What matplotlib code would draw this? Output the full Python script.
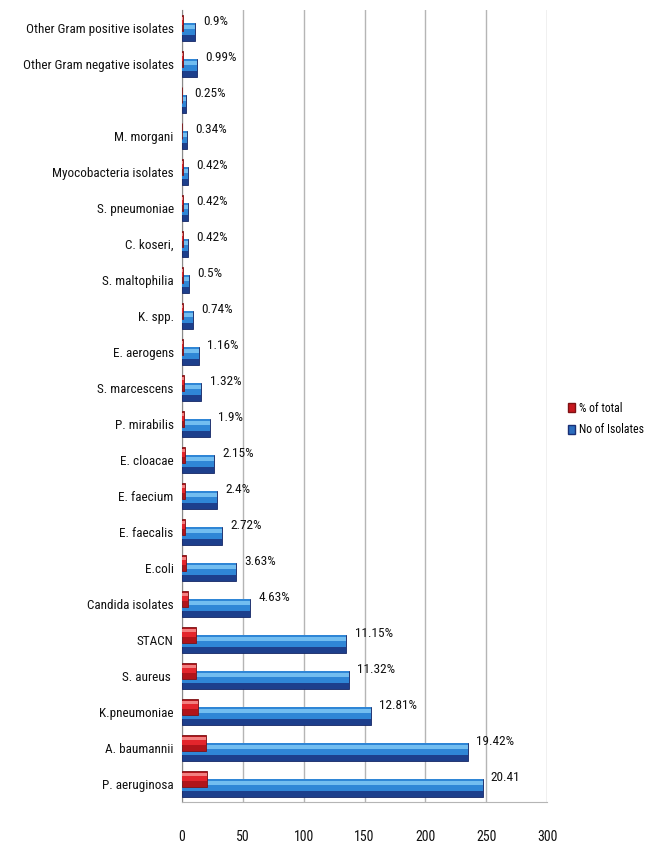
import numpy as np
import matplotlib
matplotlib.use("Agg")
import matplotlib.pyplot as plt
from matplotlib import font_manager
from matplotlib.patches import Patch

# narrow font if we have one, else plain sans
names = {f.name for f in font_manager.fontManager.ttflist}
for fam in ["Liberation Sans Narrow", "Roboto Condensed", "Open Sans Condensed", "DejaVu Sans"]:
    if fam in names:
        plt.rcParams["font.family"] = [fam, "DejaVu Sans"]
        break

# bottom to top
organisms = [
    "P. aeruginosa", "A. baumannii", "K.pneumoniae", "S. aureus ", "STACN",
    "Candida isolates", "E.coli", "E. faecalis", "E. faecium", "E. cloacae",
    "P. mirabilis", "S. marcescens", "E. aerogens", "K. spp.", "S. maltophilia",
    "C. koseri,", "S. pneumoniae", "Myocobacteria isolates", "M. morgani", "",
    "Other Gram negative isolates", "Other Gram positive isolates",
]
n_isolates = [247, 235, 155, 137, 135, 56, 44, 33, 29, 26, 23, 16, 14, 9, 6,
              5, 5, 5, 4, 3, 12, 11]
pct_total = [20.41, 19.42, 12.81, 11.32, 11.15, 4.63, 3.63, 2.72, 2.4, 2.15,
             1.9, 1.32, 1.16, 0.74, 0.5, 0.42, 0.42, 0.42, 0.34, 0.25, 0.99, 0.9]
pct_labels = ["20.41", "19.42%", "12.81%", "11.32%", "11.15%", "4.63%", "3.63%",
              "2.72%", "2.4%", "2.15%", "1.9%", "1.32%", "1.16%", "0.74%", "0.5%",
              "0.42%", "0.42%", "0.42%", "0.34%", "0.25%", "0.99%", "0.9%"]
x_ticks = [0, 50, 100, 150, 200, 250, 300]

fig = plt.figure(figsize=(6.6, 8.49), dpi=100)
ax = fig.add_axes([182/660, 47/849, 365/660, 792/849])

y = np.arange(len(organisms))

# blue series (No of isolates), lower half, faux cylinder shading
ax.barh(y - 0.11, n_isolates, height=0.5, color="#1D3F8C", edgecolor="#152766",
        linewidth=0.6, zorder=3)
ax.barh(y - 0.03, n_isolates, height=0.32, color="#2F86D6", linewidth=0, zorder=3)
ax.barh(y + 0.03, n_isolates, height=0.1, color="#72BDF0", linewidth=0, zorder=3)

# red series (% of total), upper half, drawn over blue
ax.barh(y + 0.14, pct_total, height=0.44, color="#B0141A", edgecolor="#7E1114",
        linewidth=0.6, zorder=4)
ax.barh(y + 0.19, pct_total, height=0.24, color="#E3252C", linewidth=0, zorder=4)
ax.barh(y + 0.26, pct_total, height=0.07, color="#F28080", linewidth=0, zorder=4)

for yi, v, lab in zip(y, n_isolates, pct_labels):
    ax.annotate(lab, (v, yi + 0.17), xytext=(6, 0), textcoords="offset points",
                va="center", ha="left", fontsize=9.5, color="#111111")

ax.set_ylim(-0.5, len(organisms) - 0.5)
ax.set_xlim(0, 300)
ax.set_yticks(y)
ax.set_yticklabels(organisms, fontsize=9.5, color="#111111")
ax.set_xticks(x_ticks)
ax.set_xticklabels([str(t) for t in x_ticks], fontsize=10, color="#111111")
ax.tick_params(axis="y", length=0, pad=6)
ax.tick_params(axis="x", length=0, pad=20)

ax.grid(axis="x", color="#B5B5B5", linewidth=1.0, zorder=0)
ax.set_axisbelow(True)
ax.spines["top"].set_visible(False)
ax.spines["right"].set_visible(False)
ax.spines["left"].set_color("#8A8A8A")
ax.spines["bottom"].set_color("#B5B5B5")

handles = [Patch(facecolor="#C8181F", edgecolor="#7E1114", label="% of total"),
           Patch(facecolor="#2B6DBE", edgecolor="#1A2F75", label="No of Isolates")]
fig.legend(handles=handles, loc="center left", bbox_to_anchor=(557/660, 1 - 419/849),
           frameon=False, fontsize=8.5, handlelength=0.6, handleheight=0.8,
           handletextpad=0.4, labelspacing=0.7)

fig.savefig("out.png", dpi=100)
